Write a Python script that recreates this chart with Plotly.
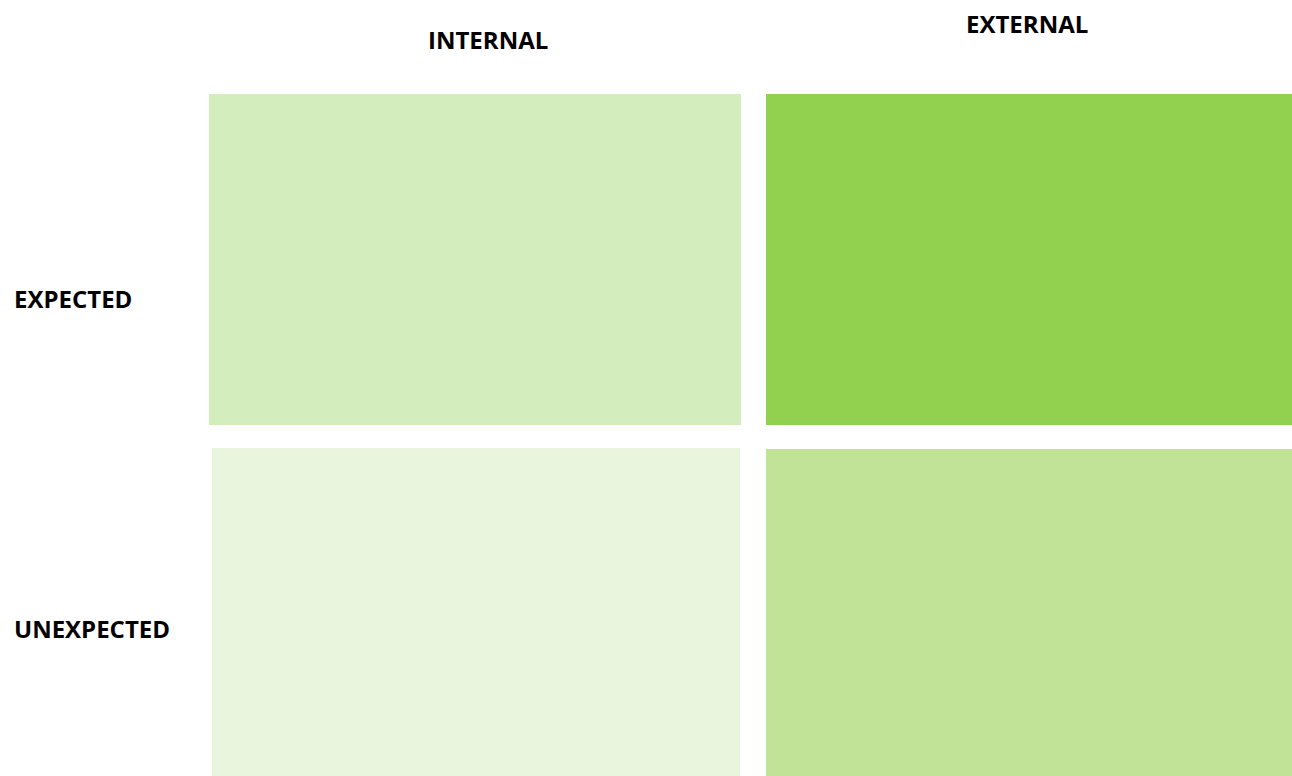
import plotly.graph_objects as go

# Data
columns = ["INTERNAL", "EXTERNAL"]
rows = ["EXPECTED", "UNEXPECTED"]
cell_colors = [["#D4EDBC", "#92D050"],
               ["#E9F5DC", "#C0E398"]]

W, H = 1292, 776

# layout geometry (pixel coordinates on axes)
col_x = [(209, 741), (766, 1292)]
row_y = [(94, 425), (448, 776)]
col_x_bottom = [(212, 740), (766, 1292)]
row_y_bottom_right = 449
col_label_pos = [(488, 39), (1027, 23)]
row_label_pos = [(12, 298), (12, 628)]

fig = go.Figure()
shapes = []
for r in range(2):
    for c in range(2):
        x0, x1 = (col_x if r == 0 else col_x_bottom)[c]
        y0, y1 = row_y[r]
        if r == 1 and c == 1:
            y0 = row_y_bottom_right
        shapes.append(dict(type="rect", xref="x", yref="y", x0=x0, x1=x1, y0=y0, y1=y1,
                           fillcolor=cell_colors[r][c], line=dict(width=0), layer="below"))

annotations = []
for name, (x, y) in zip(columns, col_label_pos):
    annotations.append(dict(x=x, y=y, xref="x", yref="y", text=f"<b>{name}</b>", showarrow=False,
                            xanchor="center", yanchor="middle",
                            font=dict(family="Open Sans", size=24, color="#000000")))
for name, (x, y) in zip(rows, row_label_pos):
    annotations.append(dict(x=x, y=y, xref="x", yref="y", text=f"<b>{name}</b>", showarrow=False,
                            xanchor="left", yanchor="middle",
                            font=dict(family="Open Sans", size=24, color="#000000")))

fig.update_layout(
    width=W, height=H,
    margin=dict(l=0, r=0, t=0, b=0),
    paper_bgcolor="white", plot_bgcolor="white",
    xaxis=dict(range=[0, W], visible=False, fixedrange=True),
    yaxis=dict(range=[H, 0], visible=False, fixedrange=True),
    shapes=shapes, annotations=annotations, showlegend=False,
)
fig.write_html(
    "out.html",
    config={"displayModeBar": False},
    post_script="document.body.style.margin='0';document.body.style.overflow='hidden';",
)
